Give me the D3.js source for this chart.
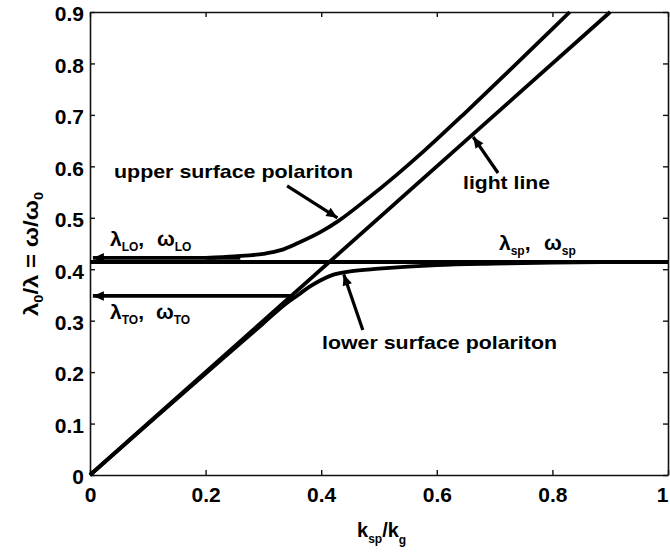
<!DOCTYPE html>
<html>
<head>
<meta charset="utf-8">
<script src="https://cdn.jsdelivr.net/npm/d3@7"></script>
<style>
  html, body { margin: 0; padding: 0; background: #fff; }
  svg { display: block; }
  text { font-family: "Liberation Sans", Arial, sans-serif; font-weight: bold; fill: #000; }
</style>
</head>
<body>
<svg id="chart" width="670" height="558"></svg>
<script>
// Axis ticks
const xTicks = [0, 0.2, 0.4, 0.6, 0.8, 1];
const xTickLabels = ["0", "0.2", "0.4", "0.6", "0.8", "1"];
const yTicks = [0, 0.1, 0.2, 0.3, 0.4, 0.5, 0.6, 0.7, 0.8, 0.9];
const yTickLabels = ["0", "0.1", "0.2", "0.3", "0.4", "0.5", "0.6", "0.7", "0.8", "0.9"];

// Characteristic frequencies (normalised)
const omegaLO = 0.422;
const omegaTO = 0.348;
const omegaSP = 0.414;

// Light line  ω = c k
const lightK = [0, 0.9];
const lightW = [0, 0.9];

// Upper surface polariton branch
const upperK = [0.2, 0.25, 0.3, 0.33, 0.36, 0.4, 0.43, 0.48, 0.53, 0.58, 0.65, 0.72, 0.8, 0.83];
const upperW = [0.422, 0.425, 0.43, 0.437, 0.451, 0.473, 0.494, 0.537, 0.583, 0.632, 0.705, 0.780, 0.867, 0.9];

// Lower surface polariton branch
const lowerK = [0, 0.1, 0.2, 0.3, 0.34, 0.36, 0.38, 0.4, 0.42, 0.45, 0.5, 0.55, 0.6, 0.7, 0.8, 0.9, 1.0];
const lowerW = [0, 0.099, 0.197, 0.295, 0.334, 0.350, 0.366, 0.379, 0.389, 0.396, 0.401, 0.405, 0.408, 0.411, 0.413, 0.414, 0.414];

const svg = d3.select("#chart");
const M = { left: 90, right: 668, top: 12, bottom: 475 };

const x = d3.scaleLinear().domain([0, 1]).range([M.left, M.right]);
const y = d3.scaleLinear().domain([0, 0.9]).range([M.bottom, M.top]);

// ---- axes (box with inward ticks on all sides) ----
const axisStyle = g => {
  g.select(".domain").attr("stroke", "#111").attr("stroke-width", 1.6);
  g.selectAll(".tick line").attr("stroke", "#111").attr("stroke-width", 1.4);
};
const labelFont = sel => sel.attr("font-size", 21)
  .style("font-family", "'Liberation Sans', Arial, sans-serif").style("font-weight", "bold");

svg.append("g").attr("transform", `translate(0,${M.bottom})`)
  .call(d3.axisBottom(x).tickValues(xTicks).tickFormat((d, i) => xTickLabels[i])
    .tickSizeInner(-5).tickSizeOuter(0).tickPadding(12))
  .call(axisStyle)
  .call(g => g.selectAll("text").call(labelFont))
  // keep the last label inside the page edge
  .call(g => g.selectAll("text").filter(d => d === 1).attr("text-anchor", "end").attr("x", 0));

svg.append("g").attr("transform", `translate(${M.left},0)`)
  .call(d3.axisLeft(y).tickValues(yTicks).tickFormat((d, i) => yTickLabels[i])
    .tickSizeInner(-5).tickSizeOuter(0).tickPadding(6))
  .call(axisStyle)
  .call(g => g.selectAll("text").call(labelFont).attr("dy", "0.42em"));

svg.append("g").attr("transform", `translate(0,${M.top})`)
  .call(d3.axisTop(x).tickValues(xTicks).tickFormat("").tickSizeInner(-5).tickSizeOuter(0))
  .call(axisStyle);

svg.append("g").attr("transform", `translate(${M.right},0)`)
  .call(d3.axisRight(y).tickValues(yTicks).tickFormat("").tickSizeInner(-5).tickSizeOuter(0))
  .call(axisStyle);

// ---- curves ----
const line = d3.line().x(d => x(d[0])).y(d => y(d[1])).curve(d3.curveMonotoneX);
const drawCurve = (ks, ws, w) => svg.append("path")
  .datum(ks.map((k, i) => [k, ws[i]]))
  .attr("d", line)
  .attr("fill", "none").attr("stroke", "#000")
  .attr("stroke-width", w).attr("stroke-linejoin", "round").attr("stroke-linecap", "butt");

drawCurve(lightK, lightW, 3.8);
drawCurve(lowerK, lowerW, 3.8);
drawCurve(upperK, upperW, 3.8);
drawCurve([0, 1], [omegaSP, omegaSP], 3.8);

// ---- arrows ----
function arrow(k0, w0, k1, w1, lw) {
  // line from (k0,w0) to the tip at (k1,w1)
  const x0 = x(k0), y0 = y(w0), x1 = x(k1), y1 = y(w1);
  svg.append("line").attr("x1", x0).attr("y1", y0).attr("x2", x1).attr("y2", y1)
    .attr("stroke", "#000").attr("stroke-width", lw);
  const a = Math.atan2(y1 - y0, x1 - x0), L = 11, H = 4.8;
  const bx = x1 - L * Math.cos(a), by = y1 - L * Math.sin(a);
  const px = -Math.sin(a) * H, py = Math.cos(a) * H;
  svg.append("path")
    .attr("d", `M${x1},${y1}L${bx + px},${by + py}L${bx - px},${by - py}Z`)
    .attr("fill", "#000");
}

arrow(0.26, omegaLO, 0.005, omegaLO, 3.8);
arrow(0.352, omegaTO, 0.005, omegaTO, 3.8);
arrow(0.341, 0.562, 0.428, 0.500, 3.2);
arrow(0.706, 0.587, 0.663, 0.657, 3.2);
arrow(0.472, 0.282, 0.439, 0.390, 3.2);

// ---- annotations ----
const fs = 19;
svg.append("text").attr("x", 114).attr("y", 178).attr("font-size", fs)
  .attr("textLength", 239).attr("lengthAdjust", "spacingAndGlyphs")
  .text("upper surface polariton");
svg.append("text").attr("x", 463).attr("y", 189).attr("font-size", fs)
  .attr("textLength", 87).attr("lengthAdjust", "spacingAndGlyphs")
  .text("light line");
svg.append("text").attr("x", 322).attr("y", 349).attr("font-size", fs)
  .attr("textLength", 235).attr("lengthAdjust", "spacingAndGlyphs")
  .text("lower surface polariton");

function greekLabel(x0, base, sub, xw) {
  const t = svg.append("text").attr("y", base).attr("font-size", 21);
  t.append("tspan").attr("x", x0).text("λ");
  t.append("tspan").attr("dy", 5).attr("font-size", 12).text(sub);
  t.append("tspan").attr("dy", -5).text(",");
  t.append("tspan").attr("x", xw).text("ω");
  t.append("tspan").attr("dy", 5).attr("font-size", 12).text(sub);
}
greekLabel(110, 246, "LO", 157);
greekLabel(110, 319, "TO", 156);
greekLabel(499, 250, "sp", 544);

// axis titles
const xt = svg.append("text").attr("x", 357).attr("y", 537).attr("font-size", 20);
xt.append("tspan").text("k");
xt.append("tspan").attr("dy", 6).attr("font-size", 12).text("sp");
xt.append("tspan").attr("dy", -6).text("/k");
xt.append("tspan").attr("dy", 7).attr("font-size", 12).text("g");

const yt = svg.append("text").attr("transform", "translate(38,254) rotate(-90)")
  .attr("text-anchor", "middle").attr("font-size", 20)
  .attr("textLength", 124).attr("lengthAdjust", "spacingAndGlyphs");
yt.append("tspan").text("λ");
yt.append("tspan").attr("dy", 5).attr("font-size", 12).text("0");
yt.append("tspan").attr("dy", -5).text("/λ = ω/ω");
yt.append("tspan").attr("dy", 5).attr("font-size", 12).text("0");
</script>
</body>
</html>
